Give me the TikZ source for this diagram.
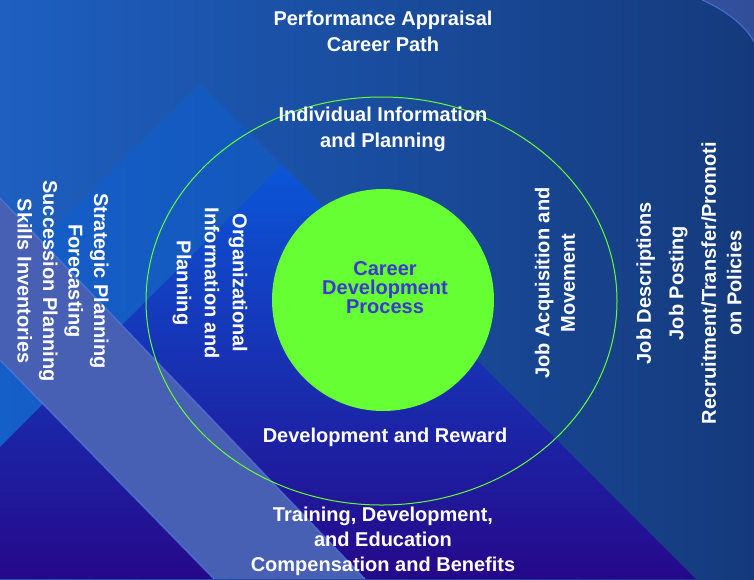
\documentclass[tikz,border=0pt]{standalone}
\usepackage{fontspec}
\setmainfont{Liberation Sans}
\usetikzlibrary{shapes.geometric}
\definecolor{bgleft}{RGB}{30,95,192}
\definecolor{bgmid}{RGB}{31,110,205}
\definecolor{bgright}{RGB}{21,58,124}
\definecolor{peakblue}{RGB}{12,96,214}
\definecolor{deeptop}{RGB}{11,86,216}
\definecolor{deepmid}{RGB}{14,40,196}
\definecolor{deepbot}{RGB}{38,8,138}
\definecolor{bandgrey}{RGB}{72,96,180}
\definecolor{bandedge}{RGB}{90,128,232}
\definecolor{ringgreen}{RGB}{102,255,51}
\definecolor{processtext}{RGB}{58,58,204}
\tikzset{
  lbl/.style={text=white,font=\bfseries\fontsize{20}{26}\selectfont,align=center,inner sep=0pt},
  vlbl/.style={lbl,font=\bfseries\fontsize{20}{25.5}\selectfont}
}
\begin{document}
\begin{tikzpicture}[x=1pt,y=-1pt]
  \useasboundingbox (0,0) rectangle (754,579);
  % backdrop
  \shade[left color=bgleft,middle color=bgmid,right color=bgright] (0,0) rectangle (754,579);
  \fill[bandgrey,opacity=.55] (702,0) .. controls (725,10) and (745,25) .. (754,42) -- (754,0) -- cycle;
  \draw[bandedge,line width=1.2pt,opacity=.6] (702,0) .. controls (725,10) and (745,25) .. (754,42);
  \fill[peakblue,opacity=.45] (200,83) -- (696,579) -- (0,579) -- (0,283) -- cycle;
  \shade[top color=deeptop,middle color=deepmid,bottom color=deepbot] (282,165) -- (696,579) -- (0,579) -- (0,447) -- cycle;
  \fill[bandgrey] (0,198) -- (365,579) -- (214,579) -- (0,360) -- cycle;
  \draw[bandedge,line width=1.5pt,opacity=.55] (0,198) -- (365,579) (0,360) -- (214,579);

  \node[ellipse,draw=ringgreen,line width=1pt,minimum width=471pt,minimum height=408pt,inner sep=0pt] (ring) at (381.5,301) {};
  \node[circle,fill=ringgreen,minimum size=222pt,inner sep=0pt] (process) at (383,300) {};
  \node[inner sep=0pt,align=center,text=processtext,font=\bfseries\fontsize{20}{19}\selectfont]
        (processlbl) at (385,288) {Career\\Development\\Process};

  \node[lbl] (appraisal) at (383,31) {Performance Appraisal\\Career Path};
  \node[lbl] (individual) at (383,129) {Individual Information\\and Planning};
  \node[lbl] (reward) at (385,437) {Development and Reward};
  \node[lbl,font=\bfseries\fontsize{20}{25}\selectfont] (training) at (383,541)
        {Training, Development,\\and Education\\Compensation and Benefits};

  \node[vlbl,rotate=-90,font=\bfseries\fontsize{20}{28}\selectfont] (organizational) at (210,283)
        {Organizational\\Information and\\Planning};
  \node[vlbl,rotate=-90] (strategic) at (63,281)
        {Strategic Planning\\Forecasting\\Succession Planning\\Skills Inventories};
  \node[vlbl,rotate=90] (acquisition) at (555,283) {Job Acquisition and\\Movement};
  \node[vlbl,rotate=90] (descriptions) at (689,283)
        {Job Descriptions\\[7pt]Job Posting\\[7pt]Recruitment/Transfer/Promoti\\on Policies};
\end{tikzpicture}
\end{document}
